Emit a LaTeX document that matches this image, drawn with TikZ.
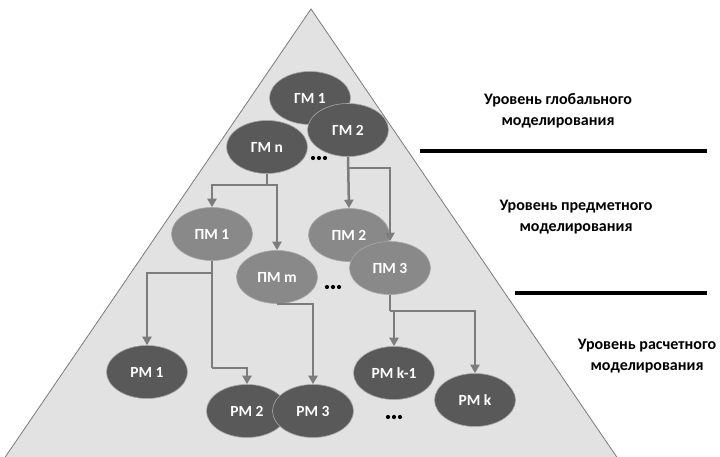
\documentclass[tikz,border=0pt]{standalone}
\usepackage{fontspec}
\setmainfont{Carlito}
\usetikzlibrary{arrows.meta,shapes.geometric}
\definecolor{pyrfill}{HTML}{E2E2E2}
\definecolor{pyredge}{HTML}{7A7A7A}
\definecolor{darkmod}{HTML}{595959}
\definecolor{midmod}{HTML}{898989}
\definecolor{linkcol}{HTML}{7C7C7C}
\tikzset{
  model/.style={ellipse, minimum width=81pt, minimum height=53pt, inner sep=0pt,
    draw=black!35, line width=0.6pt, text=white,
    font=\bfseries\fontsize{15.5}{17}\selectfont},
  darkm/.style={model, fill=darkmod},
  lightm/.style={model, fill=midmod},
  link/.style={draw=linkcol, line width=2.5pt,
    -{Triangle[length=8.5pt,width=9pt]}},
  plainlink/.style={draw=linkcol, line width=2.5pt},
  levellabel/.style={align=center, text=black,
    font=\bfseries\fontsize{16}{21}\selectfont},
  rule/.style={line width=3.6pt, black},
  dotmark/.style={fill=black}
}
\begin{document}
\begin{tikzpicture}[x=1pt,y=-1pt]
\useasboundingbox (0,0) rectangle (720,457);

% pyramid
\begin{scope}
  \clip (0,0) rectangle (720,457);
  \draw[pyredge, fill=pyrfill, line width=0.8pt]
    (311,9) -- (-5,472) -- (627,472) -- cycle;
\end{scope}

% level separators
\draw[rule] (420,151) -- (707,151);
\draw[rule] (515,293) -- (707,293);

% level labels
\node[levellabel] (lglob) at (558,111) {Уровень глобального\\моделирования};
\node[levellabel] (lpred) at (576,217) {Уровень предметного\\моделирования};
\node[levellabel] (lrasch) at (647,356) {Уровень расчетного\\моделирования};

% global models
\node[darkm] (gm1) at (310,98) {ГМ 1};
\node[darkm] (gmn) at (267,147) {ГМ n};
\node[darkm] (gm2) at (348,130) {ГМ 2};

% subject models
\node[lightm] (pm1) at (212,234) {ПМ 1};
\node[lightm] (pmm) at (277,277) {ПМ m};
\node[lightm] (pm2) at (349,235) {ПМ 2};
\node[lightm] (pm3) at (390,268) {ПМ 3};

% computational models
\node[darkm] (rm1) at (147,372) {РМ 1};
\node[darkm] (rm2) at (247,411) {РМ 2};
\node[darkm] (rm3) at (313,411) {РМ 3};
\node[darkm] (rmk1) at (394,373) {РМ k-1};
\node[darkm] (rmk) at (475,400) {РМ k};

% ellipsis marks
\foreach \cx/\cy in {319/158, 333/287, 394/417}
  \foreach \dx in {-6,0,6}
    \fill[dotmark] (\cx+\dx,\cy) circle (2.1pt);

% branch points
\coordinate (jgn) at (267,185);
\coordinate (jg2) at (348,168);
\coordinate (jp1a) at (212,273);
\coordinate (jp1b) at (212,368);
\coordinate (jp3) at (390,311);
\coordinate (jp3b) at (394,311);

% global -> subject
\draw[plainlink] (gmn.south) -- (jgn);
\draw[link] (jgn) -| (pm1.north);
\draw[link] (jgn) -| (pmm.north);
\draw[link] (gm2.south) -- (pm2.north);
\draw[link] (jg2) -| (pm3.north);

% subject -> computational
\draw[plainlink] (pm1.south) -- (jp1b);
\draw[link] (jp1a) -| (rm1.north);
\draw[link] (jp1b) -| (rm2.north);
\draw[link] (pmm.south) -| (rm3.north);
\draw[plainlink] (pm3.south) -- (jp3);
\draw[link] (jp3) -| (rmk.north);
\draw[link] (jp3b) -- (rmk1.north);
\end{tikzpicture}
\end{document}
